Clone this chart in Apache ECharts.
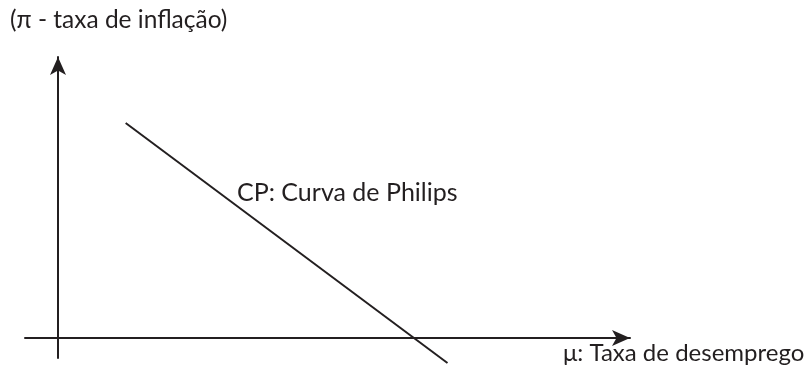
<!DOCTYPE html>
<html>
<head>
<meta charset="utf-8">
<script src="https://cdn.jsdelivr.net/npm/echarts@6/dist/echarts.min.js"></script>
<style>
    html, body { margin: 0; padding: 0; background: #fff; }
    #chart { width: 810px; height: 377px; }
</style>
</head>
<body>
<div id="chart"></div>
<script>
// dados da curva de Phillips (pontos extremos da reta)
var curveX = [2.05, 11.8];
var curveY = [10.75, -1.25];
// limites dos eixos (unidades arbitrárias)
var xRange = [-1, 17.33];
var yRange = [-1, 14.05];
// textos
var yTitle = '(\u03c0 - taxa de inflação)';
var xTitle = '\u03bc: Taxa de desemprego';
var curveName = 'CP: Curva de Philips';

var ink = '#231f20';
var font = 'Lato';

var myChart = echarts.init(document.getElementById('chart'));
var curveData = [];
for (var i = 0; i < curveX.length; i++) {
    curveData.push([curveX[i], curveY[i]]);
}

function makeAxis(range) {
    return {
        type: 'value',
        min: range[0],
        max: range[1],
        axisLine: {
            show: true,
            onZero: true,
            symbol: ['none', 'arrow'],
            symbolSize: [12, 18],
            lineStyle: { color: ink, width: 2 }
        },
        axisTick: { show: false },
        axisLabel: { show: false },
        splitLine: { show: false }
    };
}

function textStyle(size) {
    return { fontFamily: font, fontSize: size, fontWeight: 'normal', color: ink };
}

var myOption = {
    animation: false,
    backgroundColor: '#fff',
    title: [
        { text: yTitle, left: 10, top: 8, padding: 0, textStyle: textStyle(24.5) },
        { text: curveName, left: 237, top: 180, padding: 0, textStyle: textStyle(25) },
        { text: xTitle, left: 563, top: 341, padding: 0, textStyle: textStyle(24) }
    ],
    grid: { left: 25, right: 180, top: 57, bottom: 19 },
    xAxis: makeAxis(xRange),
    yAxis: makeAxis(yRange),
    series: [{
        name: curveName,
        type: 'line',
        data: curveData,
        showSymbol: false,
        clip: false,
        lineStyle: { color: ink, width: 2 }
    }]
};
myChart.setOption(myOption);
</script>
</body>
</html>
